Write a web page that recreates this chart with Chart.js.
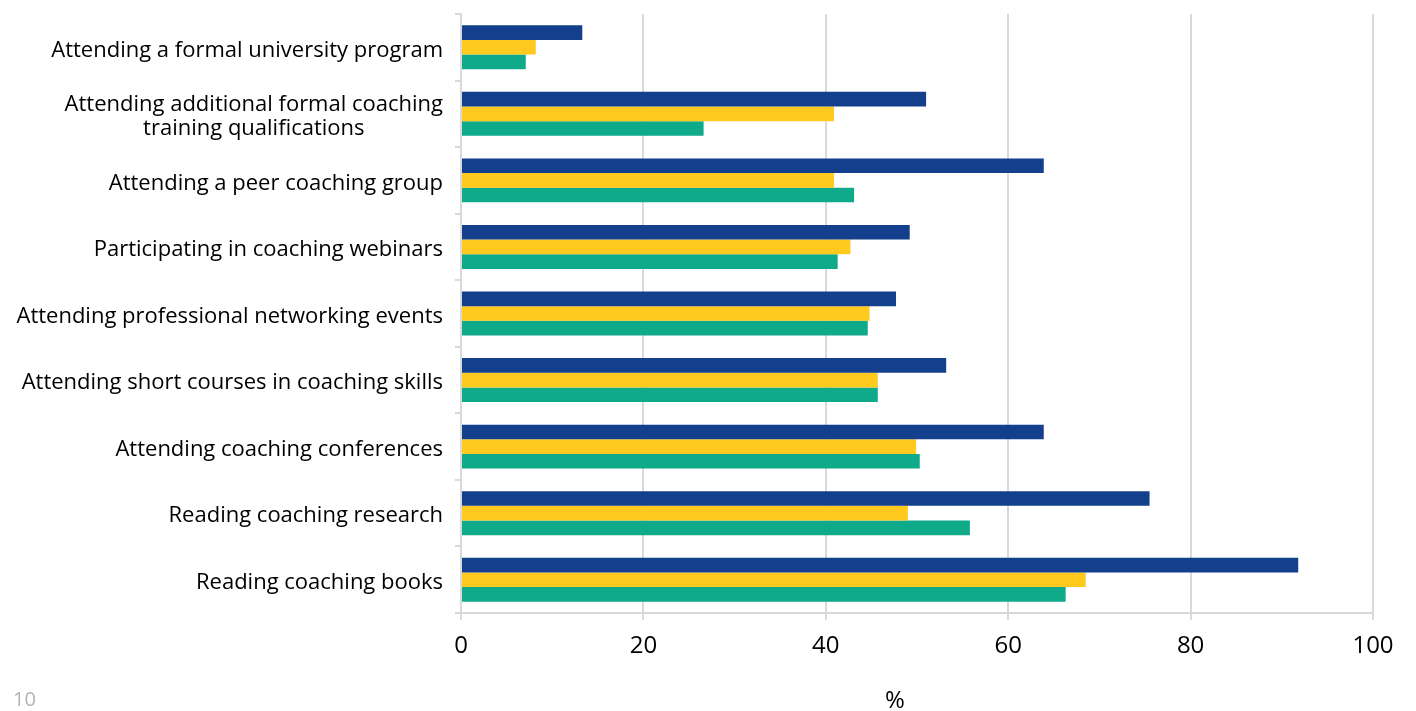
<!DOCTYPE html>
<html>
<head>
<meta charset="utf-8">
<script src="https://cdn.jsdelivr.net/npm/chart.js@4"></script>
<style>
  html, body { margin: 0; padding: 0; background: #fff; }
  #wrap { position: relative; width: 1416px; height: 711px; }
  #pageNo { position: absolute; left: 13px; top: 685px; font: 20px "Open Sans", sans-serif; color: #b3b3b3; }
</style>
</head>
<body>
<div id="wrap">
  <canvas id="chart" width="1416" height="711"></canvas>
  <div id="pageNo">10</div>
</div>
<script>
// ===== DATA =====
const categories = [
  ["Attending a formal university program"],
  ["Attending additional formal coaching", "training qualifications"],
  ["Attending a peer coaching group"],
  ["Participating in coaching webinars"],
  ["Attending professional networking events"],
  ["Attending short courses in coaching skills"],
  ["Attending coaching conferences"],
  ["Reading coaching research"],
  ["Reading coaching books"]
];
const seriesBlue   = [13.3, 51.0, 63.9, 49.2, 47.7, 53.2, 63.9, 75.5, 91.8];
const seriesYellow = [8.2, 40.9, 40.9, 42.7, 44.8, 45.7, 49.9, 49.0, 68.5];
const seriesGreen  = [7.1, 26.6, 43.1, 41.3, 44.6, 45.7, 50.3, 55.8, 66.3];
const xTicks = [0, 20, 40, 60, 80, 100];
const xTitle = "%";

const labelFont = '22px "Open Sans", sans-serif';

// Category labels (right-aligned block, lines centred) and the "%" axis title
const labelPlugin = {
  id: 'customLabels',
  afterDraw(chart) {
    const ctx = chart.ctx;
    const y = chart.scales.y;
    const area = chart.chartArea;
    const right = area.left - 18;
    const lineH = 24;
    ctx.save();
    ctx.font = labelFont;
    ctx.fillStyle = '#000';
    ctx.textBaseline = 'middle';
    ctx.textAlign = 'center';
    categories.forEach((lines, i) => {
      const cy = y.getPixelForTick(i) + 3;
      const maxW = Math.max(...lines.map(l => ctx.measureText(l).width));
      const center = right - maxW / 2;
      lines.forEach((l, j) => {
        ctx.fillText(l, center, cy + (j - (lines.length - 1) / 2) * lineH);
      });
    });
    // axis title
    ctx.font = '24px "Open Sans", sans-serif';
    ctx.fillText(xTitle, (area.left + area.right) / 2 - 22, 701);
    ctx.restore();
  }
};

new Chart(document.getElementById('chart'), {
  type: 'bar',
  data: {
    labels: categories.map(c => c.join(' ')),
    datasets: [
      { label: 'Series 1', data: seriesBlue, backgroundColor: '#143F8D' },
      { label: 'Series 2', data: seriesYellow, backgroundColor: '#FFC91E' },
      { label: 'Series 3', data: seriesGreen, backgroundColor: '#0EAA89' }
    ]
  },
  options: {
    indexAxis: 'y',
    responsive: false,
    animation: false,
    layout: { padding: { top: 14, right: 43, left: 0, bottom: 0 } },
    datasets: { bar: { categoryPercentage: 0.66, barPercentage: 1.0 } },
    plugins: { legend: { display: false }, tooltip: { enabled: false } },
    scales: {
      x: {
        min: 0,
        max: 100,
        afterBuildTicks: scale => { scale.ticks = xTicks.map(v => ({ value: v })); },
        grid: { color: '#d9d9d9', lineWidth: 2, tickLength: 7 },
        border: { color: '#d9d9d9', width: 2 },
        ticks: { color: '#000', font: { family: 'Open Sans', size: 24 }, padding: 12 },
        afterFit: scale => { scale.height = 98; }
      },
      y: {
        grid: { drawOnChartArea: false, offset: true, color: '#d9d9d9', lineWidth: 2, tickLength: 6 },
        border: { color: '#d9d9d9', width: 2 },
        ticks: { display: false },
        afterFit: scale => { scale.width = 461; }
      }
    }
  },
  plugins: [labelPlugin]
});
</script>
</body>
</html>
